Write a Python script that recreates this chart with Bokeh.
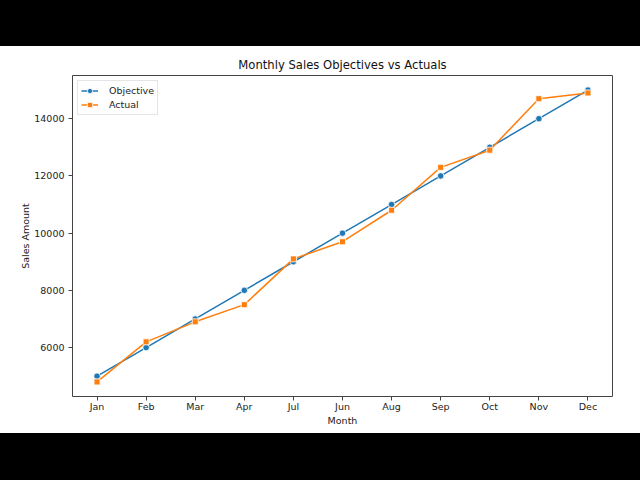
from bokeh.embed import file_html
from bokeh.resources import INLINE
from bokeh.plotting import figure
from bokeh.layouts import column
from bokeh.models import Div, FixedTicker, Range1d, FactorRange, Legend, LegendItem

months = ["Jan", "Feb", "Mar", "Apr", "Jul", "Jun", "Aug", "Sep", "Oct", "Nov", "Dec"]
objective = [5000, 6000, 7000, 8000, 9000, 10000, 11000, 12000, 13000, 14000, 15000]
actual = [4800, 6200, 6900, 7500, 9100, 9700, 10800, 12300, 12900, 14700, 14900]

blue = "#1f77b4"
orange = "#ff7f0e"
font = "DejaVu Sans"

p = figure(
    width=640, height=387,
    x_range=FactorRange(factors=months, range_padding=0),
    y_range=Range1d(4290, 15510),
    title="Monthly Sales Objectives vs Actuals",
    output_backend="svg", toolbar_location=None,
    min_border_left=72, min_border_right=28, min_border_top=29, min_border_bottom=37,
)

l1 = p.line(months, objective, line_color=blue, line_width=1.5)
s1 = p.scatter(months, objective, marker="circle", size=6.5, fill_color=blue, line_color="white", line_width=0.8)
l2 = p.line(months, actual, line_color=orange, line_width=1.5)
s2 = p.scatter(months, actual, marker="square", size=6, fill_color=orange, line_color="white", line_width=0.8)

legend = Legend(items=[LegendItem(label="Objective", renderers=[l1, s1]),
                       LegendItem(label="Actual", renderers=[l2, s2])],
                location="top_left")
legend.label_text_font = font
legend.label_text_font_size = "9.5px"
legend.label_text_color = "#222222"
legend.label_height = 13
legend.glyph_height = 13
legend.glyph_width = 17
legend.label_standoff = 11
legend.spacing = 1
legend.padding = 3
legend.margin = 5
legend.border_line_color = "#cccccc"
legend.background_fill_alpha = 0.8
p.add_layout(legend)

p.title.align = "center"
p.title.text_font = font
p.title.text_font_size = "11.6px"
p.title.text_font_style = "normal"
p.title.text_color = "#111111"
p.title.standoff = 8

p.xgrid.grid_line_color = None
p.ygrid.grid_line_color = None
p.outline_line_color = "#444444"
p.outline_line_width = 1

p.yaxis.ticker = FixedTicker(ticks=[6000, 8000, 10000, 12000, 14000])
for ax in (p.xaxis[0], p.yaxis[0]):
    ax.axis_line_color = None
    ax.major_tick_in = 0
    ax.major_tick_out = 4
    ax.major_tick_line_color = "#444444"
    ax.minor_tick_line_color = None
    ax.major_label_text_font = font
    ax.major_label_text_font_size = "9.5px"
    ax.major_label_text_color = "#222222"
    ax.axis_label_text_font = font
    ax.axis_label_text_font_size = "9.5px"
    ax.axis_label_text_font_style = "normal"
    ax.axis_label_text_color = "#222222"
p.xaxis.axis_label = "Month"
p.yaxis.axis_label = "Sales Amount"
p.xaxis.major_label_standoff = 0
p.xaxis.axis_label_standoff = 0
p.yaxis.major_label_standoff = 4
p.yaxis.axis_label_standoff = 0

top_bar = Div(text="", width=640, height=46, margin=(0, 0, 0, 0), styles={"background-color": "black"})
bottom_bar = Div(text="", width=640, height=47, margin=(0, 0, 0, 0), styles={"background-color": "black"})
page = column(top_bar, p, bottom_bar, spacing=0)

open("out.html", "w").write(file_html(page, INLINE))
